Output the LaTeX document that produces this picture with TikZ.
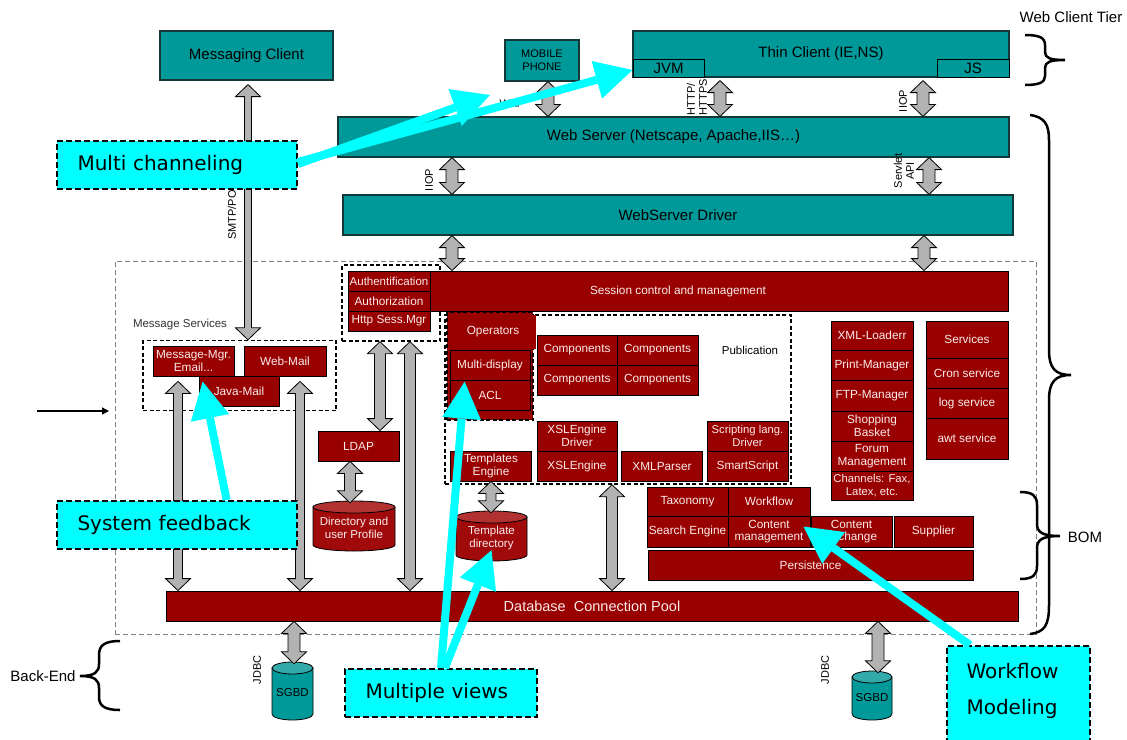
\documentclass[tikz,border=0pt]{standalone}
\usepackage{fontspec}
\setmainfont{Liberation Sans}
\newfontfamily\callfont{DejaVu Sans}
\usetikzlibrary{calc,arrows.meta}
\definecolor{tealc}{RGB}{0,153,153}
\definecolor{tealtop}{RGB}{51,170,170}
\definecolor{tealedge}{RGB}{20,55,55}
\definecolor{dred}{RGB}{153,0,0}
\definecolor{cylred}{RGB}{160,10,10}
\definecolor{cyltop}{RGB}{178,50,50}
\definecolor{redtext}{RGB}{250,235,235}
\definecolor{garrfill}{RGB}{178,178,178}
\definecolor{callcyan}{RGB}{0,255,255}
\definecolor{dashgray}{RGB}{128,128,128}
\tikzset{
 sz/.style 2 args={minimum width=#1pt, minimum height=#2pt},
 tealbox/.style={draw=tealedge, line width=1.2pt, fill=tealc, inner sep=0pt, font=\fontsize{15}{17}\selectfont, text=black},
 tealsub/.style={tealbox, draw=black, line width=1pt},
 redbox/.style={draw=black, line width=0.8pt, fill=dred, inner sep=0pt, text=redtext, align=center, font=\fontsize{11.8}{12.8}\selectfont},
 dashbox/.style={draw=black, line width=1.4pt, dash pattern=on 4pt off 2.5pt, inner sep=0pt},
 bigdash/.style={draw=dashgray, line width=1pt, dash pattern=on 5pt off 3pt, inner sep=0pt},
 lbl/.style={inner sep=0pt, font=\fontsize{11.5}{13}\selectfont},
 biglbl/.style={inner sep=0pt, font=\fontsize{15}{17}\selectfont},
 rlbl/.style={inner sep=0pt, rotate=90, font=\fontsize{11}{12}\selectfont},
 callout/.style={fill=callcyan, draw=black, line width=2pt, dash pattern=on 6pt off 3pt, inner xsep=20pt, inner ysep=0pt, align=left, font=\callfont\fontsize{20}{24}\selectfont},
 cyanarr/.style={draw=callcyan, line width=8pt, -{Triangle[length=37pt,width=39pt,line width=0pt]}},
 garrow/.style={fill=garrfill, draw=black, line width=0.8pt, line join=miter},
 bracepath/.style={draw=black, line width=2.5pt},
}
% gray double block arrow: x, top point, bottom point, shaft half width
\newcommand\garr[4]{%
 \path[garrow] let \p1=(#2), \p2=(#3) in
 (#1pt,\y1) -- ({#1pt+12.5pt},{\y1-12pt}) -- ({#1pt+#4pt},{\y1-12pt}) -- ({#1pt+#4pt},{\y2+12pt}) -- ({#1pt+12.5pt},{\y2+12pt}) -- (#1pt,\y2) -- ({#1pt-12.5pt},{\y2+12pt}) -- ({#1pt-#4pt},{\y2+12pt}) -- ({#1pt-#4pt},{\y1-12pt}) -- ({#1pt-12.5pt},{\y1-12pt}) -- cycle;
}
% cylinder: name, cx, cy, half width, half height, text, body, top, text colour
\newcommand\mycyl[9]{%
 \filldraw[fill=#7, draw=black, line width=0.8pt] ({#2-#4},{#3-#5+6}) -- ({#2-#4},{#3+#5-6}) arc[start angle=180,end angle=360,x radius=#4pt,y radius=6pt] -- ({#2+#4},{#3-#5+6}) -- cycle;
 \filldraw[fill=#8, draw=black, line width=0.8pt] ({#2},{#3-#5+6}) ellipse[x radius=#4pt, y radius=6pt];
 \node[inner sep=0pt, minimum width={2*#4pt}, minimum height={2*#5pt}, text=#9, align=center, font=\fontsize{11.5}{13}\selectfont] (#1) at (#2,{#3+2}) {#6};
}
\begin{document}
\begin{tikzpicture}[x=1pt,y=-1pt]
\useasboundingbox (0,0) rectangle (1127,739);
\fill[white] (0,0) rectangle (1127,739);

% big dashed container
\node[bigdash, sz={921}{373}] (bomarea) at (575.5,447.5) {};

% top teal boxes
\node[tealbox, sz={173}{49}] (mc) at (246.5,55.5) {Messaging Client};
\node[tealbox, sz={74}{41}, font=\fontsize{11}{13}\selectfont, align=center] (mobile) at (542,60.5) {MOBILE\\PHONE};
\node[tealbox, sz={376}{46}] (thin) at (821,54) {Thin Client (IE,NS)};
\node[tealsub, sz={71}{18}] (jvm) at (668.5,68) {JVM};
\node[tealsub, sz={72}{18}] (js) at (973,68) {JS};
\node[tealbox, sz={671}{40}] (ws) at (673.5,137) {Web Server (Netscape, Apache,IIS…)};
\node[tealbox, sz={670}{40}] (wsd) at (678,215) {WebServer Driver};

% session / auth
\node[dashbox, sz={98}{76}] (authd) at (391,303) {};
\node[redbox, sz={660}{40}] (sess) at (678,291) {Session control and management};
\node[redbox, sz={82}{20}, font=\fontsize{11.5}{12.5}\selectfont] (authn) at (389,281) {Authentification};
\node[redbox, sz={82}{20}] (authz) at (389,301) {Authorization};
\node[redbox, sz={82}{20}] (httpsm) at (389,321) {Http Sess.Mgr};

% message services
\node[lbl, text={rgb,255:red,50;green,50;blue,50}] (msglbl) at (180,325) {Message Services};
\node[dashbox, sz={193}{70}] (msgd) at (239.5,375.5) {};
\node[redbox, sz={81}{30}] (msgmgr) at (193.5,361) {Message-Mgr.\\Email...};
\node[redbox, sz={82}{30}] (webmail) at (285,361) {Web-Mail};
\node[redbox, sz={80}{30}] (javamail) at (239,391) {Java-Mail};

% LDAP / directory
\node[redbox, sz={81}{30}] (ldap) at (358.5,446) {LDAP};
\mycyl{dir}{354}{526}{41}{25}{Directory and\\user Profile}{cylred}{cyltop}{redtext}

% publication
\node[dashbox, sz={346}{169}] (pubd) at (618,399.5) {};
\node[lbl] (publbl) at (750,350) {Publication};
\node[dashbox, fill=dred, sz={86}{108}] (opsd) at (490,366) {};
\node[redbox, draw=none, sz={86}{34}] (ops) at (493,332) {Operators};
\node[redbox, sz={80}{30}] (multi) at (490,365) {Multi-display};
\node[redbox, sz={80}{30}] (acl) at (490,395) {ACL};
\node[redbox, sz={80}{30}] (comp1) at (577,350) {Components};
\node[redbox, sz={81}{30}] (comp2) at (657.5,350) {Components};
\node[redbox, sz={80}{30}] (comp3) at (577,380) {Components};
\node[redbox, sz={81}{30}] (comp4) at (657.5,380) {Components};
\node[redbox, sz={80}{30}] (xsldrv) at (577,436) {XSLEngine\\Driver};
\node[redbox, sz={80}{30}] (xsl) at (577,466) {XSLEngine};
\node[redbox, sz={81}{30}] (templ) at (491,466) {Templates\\Engine};
\node[redbox, sz={81}{30}] (xmlp) at (662,466) {XMLParser};
\node[redbox, sz={81}{30}, font=\fontsize{11.3}{12.5}\selectfont] (scrdrv) at (747.5,436) {Scripting lang.\\Driver};
\node[redbox, sz={81}{30}] (smart) at (747.5,466) {SmartScript};
\mycyl{tpldir}{491.5}{536}{35.5}{25}{Template\\directory}{cylred}{cyltop}{redtext}

% right columns
\node[redbox, sz={82}{29}] (xmlload) at (872,335.5) {XML-Loaderr};
\node[redbox, sz={82}{30}] (print) at (872,365) {Print-Manager};
\node[redbox, sz={82}{31}] (ftp) at (872,395.5) {FTP-Manager};
\node[redbox, sz={82}{30}] (shop) at (872,426) {Shopping\\Basket};
\node[redbox, sz={82}{30}] (forum) at (872,456) {Forum\\Management};
\node[redbox, sz={82}{29}, font=\fontsize{11.3}{12.5}\selectfont] (chan) at (872,485.5) {Channels: Fax,\\Latex, etc.};
\node[redbox, sz={82}{37}] (services) at (967,339.5) {Services};
\node[redbox, sz={82}{30}] (cron) at (967,373) {Cron service};
\node[redbox, sz={82}{30}] (logs) at (967,403) {log service};
\node[redbox, sz={82}{41}] (awt) at (967,438.5) {awt service};

% BOM
\node[redbox, sz={81}{29}] (tax) at (687.5,501.5) {Taxonomy};
\node[redbox, sz={82}{29}] (wf) at (769,501.5) {Workflow};
\node[redbox, sz={81}{31}] (search) at (687.5,531.5) {Search Engine};
\node[redbox, sz={82}{31}] (cmgmt) at (769,531.5) {Content\\management};
\node[redbox, sz={81}{31}] (cex) at (851.5,531.5) {Content\\exchange};
\node[redbox, sz={79}{31}] (supp) at (933.5,531.5) {Supplier};
\node[redbox, sz={325}{30}] (pers) at (810.5,565) {Persistence};

% pool and databases
\node[redbox, sz={852}{30}, font=\fontsize{14.5}{16}\selectfont] (pool) at (592,606) {Database\ \ Connection Pool};
\mycyl{sgbd1}{292.5}{691}{20.5}{29}{SGBD}{tealc}{tealtop}{black}
\mycyl{sgbd2}{872}{695.5}{20}{24.5}{SGBD}{tealc}{tealtop}{black}

% gray block arrows
\garr{248}{$(mc.south)+(0,4)$}{msgd.north}{3.5}
\garr{178}{$(msgmgr.south)+(0,5)$}{pool.north}{4.5}
\garr{300}{$(webmail.south)+(0,5)$}{pool.north}{4.5}
\garr{380}{authd.south}{ldap.north}{5.5}
\garr{410}{authd.south}{pool.north}{5.5}
\garr{350}{ldap.south}{dir.north}{5.5}
\garr{491}{templ.south}{tpldir.north}{5}
\garr{612}{pubd.south}{pool.north}{5.5}
\garr{548}{mobile.south}{ws.north}{6}
\garr{720}{$(thin.south)+(0,3)$}{ws.north}{6}
\garr{923}{$(thin.south)+(0,3)$}{ws.north}{6}
\garr{452}{ws.south}{wsd.north}{6}
\garr{929}{ws.south}{wsd.north}{6}
\garr{452}{wsd.south}{sess.north}{6}
\garr{924}{wsd.south}{sess.north}{6}
\garr{294}{pool.south}{sgbd1.north}{6}
\garr{878}{pool.south}{sgbd2.north}{6}

% connector labels
\node[rlbl, anchor=west] (smtp) at (232,240) {SMTP/POP};
\node[rlbl, align=left] (http) at (697,97) {HTTP/\\HTTPS};
\node[rlbl] (iiop1) at (903,101) {IIOP};
\node[rlbl] (iiop2) at (429,180) {IIOP};
\node[rlbl, align=center] (servlet) at (904,171) {Servlet\\API};
\node[rlbl] (jdbc1) at (257,670) {JDBC};
\node[rlbl] (jdbc2) at (825,670) {JDBC};
\node[lbl, font=\fontsize{11}{12}\selectfont] (wap) at (512,104) {WAP};

% tier labels and braces
\node[biglbl] (wct) at (1071,17) {Web Client Tier};
\node[biglbl] (bomlbl) at (1085,537) {BOM};
\node[biglbl] (backend) at (43,676) {Back-End};
\draw[bracepath] (1025,35) .. controls (1040,35) and (1045,38) .. (1045,45) -- (1045,52) .. controls (1045,58) and (1050,60) .. (1065,60) .. controls (1050,60) and (1045,62) .. (1045,68) -- (1045,76) .. controls (1045,82) and (1040,85) .. (1025,85);
\draw[bracepath] (1030,115) .. controls (1045,117) and (1049,125) .. (1049,140) -- (1049,350) .. controls (1049,368) and (1055,375) .. (1071,375) .. controls (1055,375) and (1049,382) .. (1049,400) -- (1049,605) .. controls (1049,625) and (1045,632) .. (1030,634);
\draw[bracepath] (1020,492) .. controls (1033,492) and (1037,496) .. (1037,505) -- (1037,524) .. controls (1037,532) and (1042,536) .. (1060,536) .. controls (1042,536) and (1037,540) .. (1037,548) -- (1037,566) .. controls (1037,575) and (1033,579) .. (1020,579);
\draw[bracepath] (120,641) .. controls (105,641) and (99,645) .. (99,655) -- (99,664) .. controls (99,672) and (95,676) .. (80,676) .. controls (95,676) and (99,680) .. (99,688) -- (99,697) .. controls (99,706) and (105,710) .. (120,710);

% left input arrow
\coordinate (inA) at (37,411);
\coordinate (inB) at (109,411);
\draw[line width=1.3pt, -{Triangle[length=7pt,width=7pt]}] (inA) -- (inB);

% callouts
\node[callout, sz={240}{48}, text width=199pt] (multich) at (177,165) {Multi channeling};
\node[callout, sz={240}{48}, text width=199pt] (sysfb) at (177,525) {System feedback};
\node[callout, sz={192}{48}, text width=151pt] (multiv) at (441,693) {Multiple views};
\node[callout, anchor=north, inner ysep=17pt, text width=103pt, font=\callfont\fontsize{20}{36}\selectfont] (wfm) at (1018,645) {Workflow\\Modeling\rule[-14pt]{0pt}{1pt}};

% cyan arrows
\coordinate (wapend) at (490,95);
\draw[cyanarr] ($(multich.east)+(0,-1)$) -- (wapend);
\draw[cyanarr] ($(multich.east)+(0,-3)$) -- ($(jvm.west)+(0,2)$);
\draw[cyanarr] ($(sysfb.north west)!0.705!(sysfb.north east)$) -- ($(javamail.north west)+(4,6)$);
\draw[cyanarr] ($(multiv.north west)!0.5!(multiv.north east)$) -- ($(acl.north west)+(15,2)$);
\draw[cyanarr] ($(multiv.north west)!0.52!(multiv.north east)$) -- ($(tpldir.south)+(0,-13)$);
\draw[cyanarr] ($(wfm.north)+(-48,0)$) -- ($(cmgmt.east)+(-7,-5)$);
\end{tikzpicture}
\end{document}
